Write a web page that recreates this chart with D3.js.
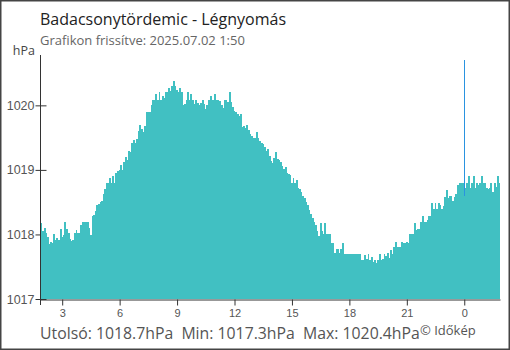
<!DOCTYPE html>
<html>
<head>
<meta charset="utf-8">
<style>
  body { margin: 0; background: #fff; }
  svg { display: block; font-family: "Open Sans", "Noto Sans", sans-serif; }
  .bar { fill: #41c0c2; }
  .axis path, .axis line { stroke: #333; }
  .axis text { fill: #555; }
</style>
</head>
<body>
<svg width="510" height="350"></svg>
<script src="https://d3js.org/d3.v7.min.js"></script>
<script>
// chart text
var title = "Badacsonytördemic - Légnyomás";
var subtitle = "Grafikon frissítve: 2025.07.02 1:50";
var unit = "hPa";
var stats = "Utolsó: 1018.7hPa  Min: 1017.3hPa  Max: 1020.4hPa";
var credit = "© Időkép";

// time window: first sample and step (minutes)
var startTime = new Date(2025, 6, 1, 1, 52);
var endTime = new Date(2025, 6, 2, 1, 52);
var stepMinutes = 5;
var midnight = new Date(2025, 6, 2, 0, 0);

var yTicks = [1017, 1018, 1019, 1020];
var yMin = 1017, yMax = 1020.78;

// pressure readings (hPa), one per 5 minutes
var pressure = [
  1018.18, 1018.05, 1018.10, 1018.02, 1017.96, 1017.85, 1017.88, 1017.86, 1018.00, 1017.92, 1017.95, 1017.92,
  1018.09, 1017.96, 1017.99, 1018.20, 1018.08, 1018.02, 1017.93, 1017.90, 1017.92, 1018.03, 1018.07, 1018.02,
  1018.02, 1018.15, 1018.20, 1018.20, 1018.19, 1018.20, 1018.10, 1017.99, 1018.28, 1018.30, 1018.36, 1018.45,
  1018.47, 1018.50, 1018.52, 1018.62, 1018.70, 1018.79, 1018.79, 1018.88, 1018.80, 1018.90, 1018.80, 1018.95,
  1018.98, 1019.00, 1019.08, 1019.00, 1019.12, 1019.20, 1019.15, 1019.30, 1019.28, 1019.41, 1019.47, 1019.41,
  1019.48, 1019.60, 1019.69, 1019.64, 1019.58, 1019.68, 1019.89, 1019.89, 1019.90, 1020.00, 1020.09, 1020.09,
  1020.18, 1020.09, 1020.20, 1020.09, 1020.14, 1020.12, 1020.20, 1020.20, 1020.27, 1020.22, 1020.30, 1020.38,
  1020.30, 1020.24, 1020.20, 1020.27, 1020.20, 1020.00, 1020.02, 1020.09, 1020.20, 1020.09, 1020.18, 1020.09,
  1020.02, 1020.09, 1020.03, 1020.00, 1020.03, 1020.09, 1020.02, 1019.95, 1020.00, 1020.09, 1020.15, 1020.09,
  1020.09, 1020.18, 1020.09, 1020.09, 1020.06, 1020.00, 1019.96, 1020.09, 1020.09, 1020.05, 1020.20, 1020.05,
  1019.97, 1019.92, 1019.89, 1019.86, 1019.84, 1019.86, 1019.67, 1019.68, 1019.65, 1019.69, 1019.62, 1019.55,
  1019.52, 1019.50, 1019.49, 1019.58, 1019.50, 1019.44, 1019.42, 1019.40, 1019.35, 1019.30, 1019.33, 1019.22,
  1019.14, 1019.11, 1019.19, 1019.28, 1019.17, 1019.15, 1019.12, 1019.06, 1019.02, 1019.05, 1018.95, 1018.93,
  1018.92, 1018.80, 1018.88, 1018.80, 1018.84, 1018.72, 1018.70, 1018.66, 1018.60, 1018.56, 1018.50, 1018.45,
  1018.38, 1018.32, 1018.26, 1018.20, 1018.14, 1018.05, 1017.97, 1018.18, 1018.05, 1018.01, 1018.18, 1018.01,
  1018.00, 1018.01, 1017.87, 1017.87, 1017.72, 1017.78, 1017.78, 1017.72, 1017.77, 1017.87, 1017.70, 1017.70,
  1017.70, 1017.70, 1017.70, 1017.70, 1017.70, 1017.70, 1017.70, 1017.70, 1017.70, 1017.60, 1017.60, 1017.68,
  1017.62, 1017.69, 1017.60, 1017.65, 1017.57, 1017.60, 1017.55, 1017.60, 1017.69, 1017.60, 1017.62, 1017.69,
  1017.66, 1017.72, 1017.64, 1017.76, 1017.70, 1017.80, 1017.89, 1017.80, 1017.80, 1017.80, 1017.89, 1017.87,
  1017.86, 1017.89, 1017.86, 1018.00, 1018.00, 1018.00, 1018.18, 1018.07, 1018.09, 1018.09, 1018.20, 1018.29,
  1018.20, 1018.20, 1018.22, 1018.29, 1018.29, 1018.49, 1018.39, 1018.49, 1018.39, 1018.49, 1018.46, 1018.40,
  1018.44, 1018.58, 1018.69, 1018.56, 1018.59, 1018.59, 1018.52, 1018.58, 1018.62, 1018.76, 1018.79, 1018.79,
  1018.79, 1018.60, 1018.72, 1018.79, 1018.90, 1018.72, 1018.79, 1018.90, 1018.72, 1018.79, 1018.76, 1018.79,
  1018.90, 1018.79, 1018.79, 1018.72, 1018.70, 1018.72, 1018.79, 1018.66, 1018.79, 1018.74, 1018.90, 1018.79
];

var svg = d3.select("svg");

var data = pressure.map(function(v, i) {
  return { t: d3.timeMinute.offset(startTime, i * stepMinutes), v: v };
});

var x = d3.scaleTime().domain([startTime, endTime]).range([40.5, 500]);
var y = d3.scaleLinear().domain([yMin, yMax]).range([299, 55]);

// frame
svg.append("rect")
  .attr("x", 0.75).attr("y", 0.75).attr("width", 508.5).attr("height", 348.5)
  .attr("fill", "none").attr("stroke", "#444").attr("stroke-width", 1.5);

// titles
svg.append("text").attr("x", 40).attr("y", 25)
  .attr("font-size", 16).attr("fill", "#222").text(title);
svg.append("text").attr("x", 40).attr("y", 45)
  .attr("font-size", 13).attr("fill", "#666").text(subtitle);
svg.append("text").attr("x", 35).attr("y", 55).attr("text-anchor", "end")
  .attr("font-size", 12.5).attr("fill", "#444").text(unit);

// y axis (ticks cross the axis line)
var gy = svg.append("g").attr("class", "axis")
  .attr("transform", "translate(40.5,0)")
  .call(d3.axisLeft(y).tickValues(yTicks).tickSizeInner(5).tickSizeOuter(0).tickPadding(1)
    .tickFormat(d3.format("d")));
gy.selectAll(".tick line").attr("x1", 6);
gy.selectAll("text").attr("font-size", 12.5).attr("font-family", null);
gy.select(".domain").remove();

// midnight marker
svg.append("line")
  .attr("x1", Math.round(x(midnight)) + 0.5).attr("x2", Math.round(x(midnight)) + 0.5)
  .attr("y1", 60).attr("y2", 299)
  .attr("stroke", "#2a93e0").attr("stroke-width", 1);

// bars
svg.append("g").selectAll("rect")
  .data(data)
  .enter().append("rect")
    .attr("class", "bar")
    .attr("shape-rendering", "crispEdges")
    .attr("x", function(d) { return x(d.t); })
    .attr("width", function(d) { return x(d3.timeMinute.offset(d.t, stepMinutes)) - x(d.t) + 0.3; })
    .attr("y", function(d) { return y(d.v); })
    .attr("height", function(d) { return y(yMin) - y(d.v); });

// axis lines
svg.append("line").attr("x1", 40.5).attr("x2", 40.5).attr("y1", 55).attr("y2", 305)
  .attr("stroke", "#333");

var gx = svg.append("g").attr("class", "axis")
  .attr("transform", "translate(0,299.5)")
  .call(d3.axisBottom(x).ticks(d3.timeHour.every(3)).tickSizeInner(6).tickSizeOuter(0).tickPadding(4)
    .tickFormat(d3.timeFormat("%-H")));
gx.selectAll("text").attr("font-size", 11).attr("font-family", null);
gx.selectAll(".tick").filter(function(d) { return d.getHours() === 0; })
  .each(function() {
    d3.select(this).select("line").attr("stroke", "#2a93e0");
  });

// footer
svg.append("text").attr("x", 40).attr("y", 339)
  .attr("font-size", 15.8).attr("fill", "#555").attr("xml:space", "preserve")
  .style("white-space", "pre").text(stats);
svg.append("text").attr("x", 420).attr("y", 335)
  .attr("font-size", 13).attr("fill", "#555").text(credit);
</script>
</body>
</html>
